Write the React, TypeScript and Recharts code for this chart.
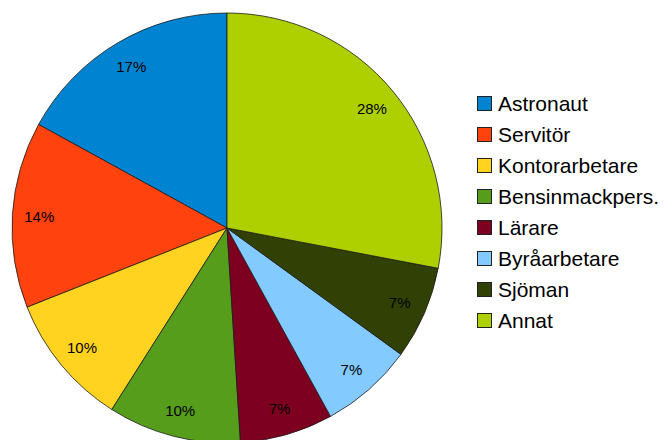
import { Cell, Legend, Pie, PieChart } from "recharts"

const categories = [
    "Astronaut",
    "Servitör",
    "Kontorarbetare",
    "Bensinmackpers.",
    "Lärare",
    "Byråarbetare",
    "Sjöman",
    "Annat",
]
const shares = [17, 14, 10, 10, 7, 7, 7, 28]

const COLORS = [
    "#0084D1",
    "#FF420E",
    "#FFD320",
    "#579D1C",
    "#7E0021",
    "#83CAFF",
    "#314004",
    "#AECF00",
]

const FONT = '"Liberation Sans", Arial, sans-serif'
const RADIAN = Math.PI / 180

const data = categories.map((name, i) => ({ name, value: shares[i] }))

function SliceLabel(props: any) {
    const { cx, cy, midAngle, outerRadius, percent } = props
    const r = outerRadius * 0.875
    const x = cx + r * Math.cos(-midAngle * RADIAN)
    const y = cy + r * Math.sin(-midAngle * RADIAN)
    return (
        <text
            x={x}
            y={y}
            fill="#000"
            textAnchor="middle"
            dominantBaseline="central"
            fontFamily={FONT}
            fontSize={15}
        >
            {`${Math.round(percent * 100)}%`}
        </text>
    )
}

function LegendList() {
    return (
        <div style={{ fontFamily: FONT, fontSize: 21, color: "#000" }}>
            {categories.map((name, i) => (
                <div
                    key={name}
                    style={{ display: "flex", alignItems: "center", height: 31, lineHeight: "31px" }}
                >
                    <span
                        style={{
                            width: 13,
                            height: 13,
                            background: COLORS[i],
                            border: "1px solid #222",
                            marginRight: 6,
                            flexShrink: 0,
                        }}
                    />
                    <span>{name}</span>
                </div>
            ))}
        </div>
    )
}

export default function App() {
    return (
        <div style={{ position: "fixed", left: 0, top: 0, width: 664, height: 440, background: "#fff" }}>
            <PieChart width={664} height={440} margin={{ top: 0, right: 0, bottom: 0, left: 0 }}>
                <Pie
                    data={data}
                    dataKey="value"
                    nameKey="name"
                    cx={227}
                    cy={228}
                    outerRadius={215}
                    startAngle={90}
                    endAngle={450}
                    stroke="#1a1a1a"
                    strokeWidth={0.8}
                    label={SliceLabel}
                    labelLine={false}
                    isAnimationActive={false}
                >
                    {data.map((_, i) => (
                        <Cell key={i} fill={COLORS[i]} />
                    ))}
                </Pie>
                <Legend
                    layout="vertical"
                    content={<LegendList />}
                    wrapperStyle={{ left: 477, top: 88, width: 187 }}
                />
            </PieChart>
        </div>
    )
}
